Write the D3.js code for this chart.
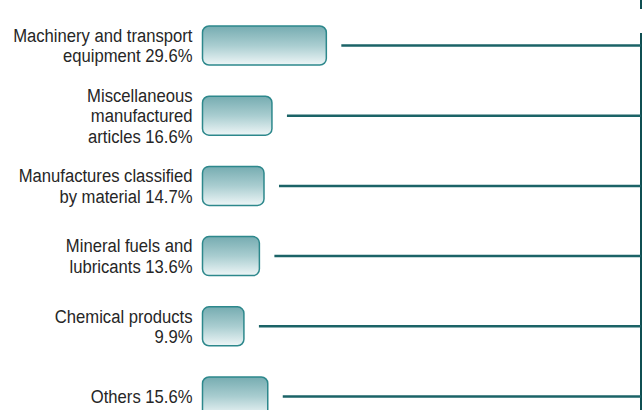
<!DOCTYPE html>
<html lang="en">
<head>
    <meta charset="UTF-8">
    <script src="https://d3js.org/d3.v7.min.js"></script>
    <title>Export structure</title>
    <style>
        body { margin: 0; background: #fff; }
        .label text {
            font-family: "Liberation Sans", Arial, sans-serif;
            font-size: 18.5px;
            fill: #262626;
        }
        .bar { stroke: #2d888c; stroke-width: 1.5; }
        .leader { stroke: #1b6367; stroke-width: 2.5; }
        .edge { stroke: #0f4f52; stroke-width: 2; }
    </style>
</head>
<body>
    <div id="container"></div>
</body>
<script>
    // data
    var categories = ["Machinery and transport equipment", "Miscellaneous manufactured articles",
                      "Manufactures classified by material", "Mineral fuels and lubricants",
                      "Chemical products", "Others"];
    var shares = [29.6, 16.6, 14.7, 13.6, 9.9, 15.6];
    var labelLines = [
        ["Machinery and transport", "equipment 29.6%"],
        ["Miscellaneous", "manufactured", "articles 16.6%"],
        ["Manufactures classified", "by material 14.7%"],
        ["Mineral fuels and", "lubricants 13.6%"],
        ["Chemical products", "9.9%"],
        ["Others 15.6%"]
    ];

    var width = 642, height = 410;

    var svg = d3.select("#container").append("svg")
        .attr("width", width)
        .attr("height", height);

    var grad = svg.append("defs").append("linearGradient")
        .attr("id", "barGrad")
        .attr("x1", 0).attr("y1", 0).attr("x2", 0).attr("y2", 1);
    grad.append("stop").attr("offset", "0%").attr("stop-color", "#76acb1");
    grad.append("stop").attr("offset", "50%").attr("stop-color", "#a9cdd0");
    grad.append("stop").attr("offset", "100%").attr("stop-color", "#eef6f7");

    var x = d3.scaleLinear().domain([0, 30]).range([202.5, 328]);
    var y = d3.scalePoint().domain(categories).range([45.5, 396.5]);
    var barH = 39, gap = 15, rightX = 641;

    var rows = categories.map(function (c, i) {
        return { cat: c, v: shares[i], lines: labelLines[i] };
    });

    // right edge line
    svg.append("line").attr("class", "edge")
        .attr("x1", rightX).attr("x2", rightX).attr("y1", 0).attr("y2", 9);
    svg.append("line").attr("class", "edge")
        .attr("x1", rightX).attr("x2", rightX).attr("y1", 33).attr("y2", height);

    // leader lines
    svg.selectAll(".leader").data(rows).join("line")
        .attr("class", "leader")
        .attr("x1", function (d) { return x(d.v) + gap; })
        .attr("x2", rightX)
        .attr("y1", function (d) { return y(d.cat); })
        .attr("y2", function (d) { return y(d.cat); });

    // bars
    svg.selectAll(".bar").data(rows).join("rect")
        .attr("class", "bar")
        .attr("x", x(0))
        .attr("y", function (d) { return y(d.cat) - barH / 2; })
        .attr("width", function (d) { return x(d.v) - x(0); })
        .attr("height", barH)
        .attr("rx", 6.5)
        .attr("fill", "url(#barGrad)");

    // labels (condensed look via horizontal squeeze)
    var lineH = 20.5;
    var lab = svg.selectAll(".label").data(rows).join("g")
        .attr("class", "label")
        .attr("transform", function (d) {
            return "translate(" + (x(0) - 10) + "," + y(d.cat) + ") scale(0.9,1)";
        });
    lab.append("text")
        .attr("text-anchor", "end")
        .selectAll("tspan").data(function (d) { return d.lines; }).join("tspan")
        .attr("x", 0)
        .attr("y", function (t, i, nodes) {
            var n = nodes.length;
            return (i - (n - 1) / 2) * lineH + 6.5;
        })
        .text(function (t) { return t; });
</script>
</html>
